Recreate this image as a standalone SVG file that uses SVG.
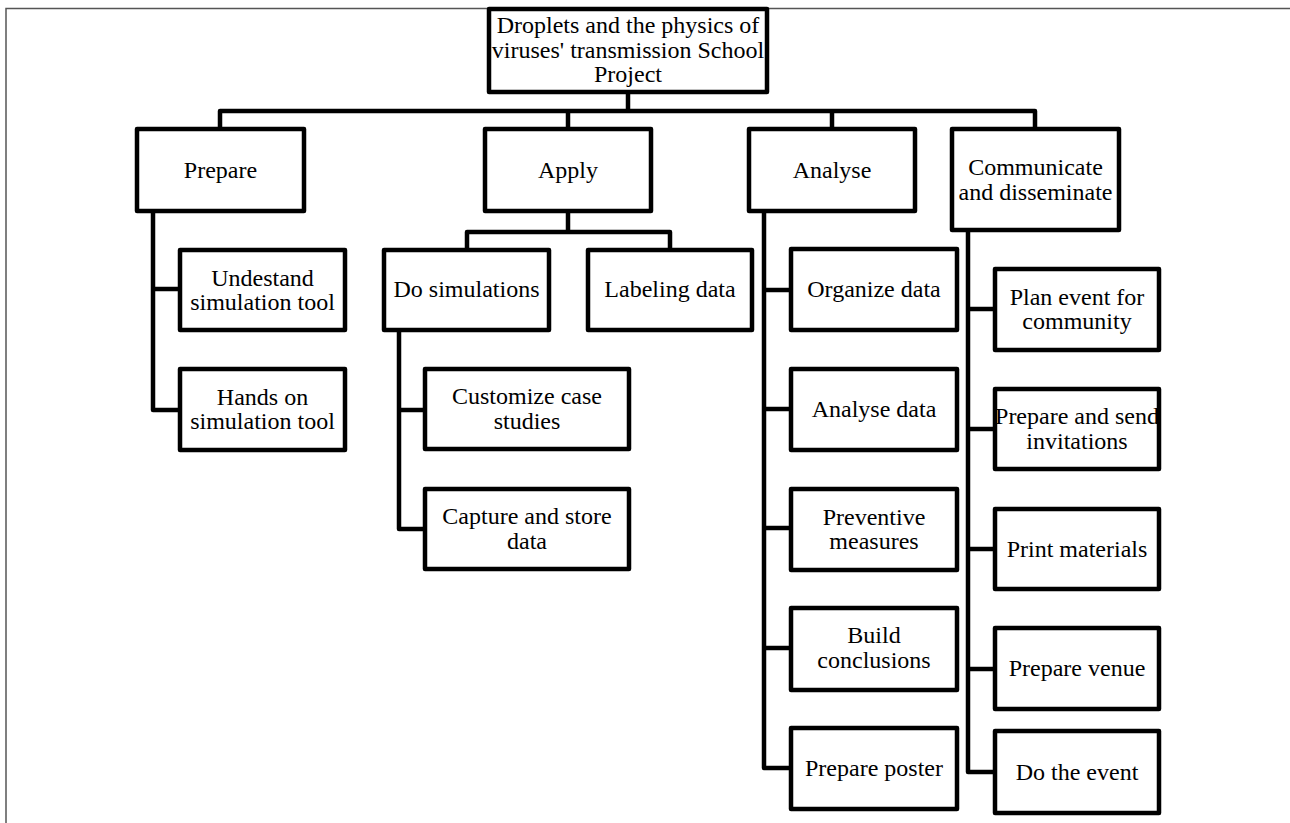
<svg xmlns="http://www.w3.org/2000/svg" width="1290" height="823" viewBox="0 0 1290 823">
  <style>
    .box { fill: #ffffff; stroke: #000000; stroke-width: 4.5; stroke-linejoin: round; }
    .lbl { font-family: "Liberation Serif", "Times New Roman", serif; font-size: 24px; fill: #000000; text-anchor: middle; }
    .wire { fill: none; stroke: #000000; stroke-width: 4.5; stroke-linejoin: round; stroke-linecap: butt; }
    .frame { fill: none; stroke: #555555; stroke-width: 1.5; }
  </style>
  <rect width="1290" height="823" fill="#ffffff"/>
  <path class="frame" d="M1290,8.5 H6 V823"/>

  <!-- tree connectors -->
  <g id="connectors">
    <!-- root to phases -->
    <path class="wire" d="M628,94 V111"/>
    <path class="wire" d="M220,127 V111 H1035 V127"/>
    <path class="wire" d="M568,111 V127"/>
    <path class="wire" d="M832,111 V127"/>
    <!-- Prepare -->
    <path class="wire" d="M153,213 V410 H178"/>
    <path class="wire" d="M153,289 H178"/>
    <!-- Apply -->
    <path class="wire" d="M568,213 V232"/>
    <path class="wire" d="M467,248 V232 H670 V248"/>
    <!-- Do simulations -->
    <path class="wire" d="M399,332 V529 H423"/>
    <path class="wire" d="M399,410 H423"/>
    <!-- Analyse -->
    <path class="wire" d="M764,213 V768 H789"/>
    <path class="wire" d="M764,290 H789"/>
    <path class="wire" d="M764,409 H789"/>
    <path class="wire" d="M764,528 H789"/>
    <path class="wire" d="M764,648 H789"/>
    <!-- Communicate and disseminate -->
    <path class="wire" d="M968,232 V772 H993"/>
    <path class="wire" d="M968,309 H993"/>
    <path class="wire" d="M968,429 H993"/>
    <path class="wire" d="M968,549 H993"/>
    <path class="wire" d="M968,669 H993"/>
  </g>

  <g id="root">
    <rect class="box" x="489" y="9" width="278" height="83"/>
    <text class="lbl" x="628" y="33">Droplets and the physics of</text>
    <text class="lbl" x="628" y="57.5">viruses' transmission School</text>
    <text class="lbl" x="628" y="82">Project</text>
  </g>

  <g id="prepare">
    <rect class="box" x="137" y="129" width="167" height="82"/>
    <text class="lbl" x="220.5" y="178">Prepare</text>
  </g>
  <g id="apply">
    <rect class="box" x="485" y="129" width="166" height="82"/>
    <text class="lbl" x="568" y="178">Apply</text>
  </g>
  <g id="analyse">
    <rect class="box" x="749" y="129" width="166" height="82"/>
    <text class="lbl" x="832" y="178">Analyse</text>
  </g>
  <g id="communicate">
    <rect class="box" x="952" y="129" width="167" height="101"/>
    <text class="lbl" x="1035.5" y="175">Communicate</text>
    <text class="lbl" x="1035.5" y="199.5">and disseminate</text>
  </g>

  <g id="understand-tool">
    <rect class="box" x="180" y="250" width="165" height="80"/>
    <text class="lbl" x="262.5" y="285.5">Undestand</text>
    <text class="lbl" x="262.5" y="310">simulation tool</text>
  </g>
  <g id="hands-on-tool">
    <rect class="box" x="180" y="369" width="165" height="81"/>
    <text class="lbl" x="262.5" y="404.5">Hands on</text>
    <text class="lbl" x="262.5" y="429">simulation tool</text>
  </g>

  <g id="do-simulations">
    <rect class="box" x="384" y="250" width="165" height="80"/>
    <text class="lbl" x="466.5" y="297">Do simulations</text>
  </g>
  <g id="labeling-data">
    <rect class="box" x="588" y="250" width="164" height="80"/>
    <text class="lbl" x="670" y="297">Labeling data</text>
  </g>
  <g id="customize-cases">
    <rect class="box" x="425" y="369" width="204" height="80"/>
    <text class="lbl" x="527" y="404">Customize case</text>
    <text class="lbl" x="527" y="428.5">studies</text>
  </g>
  <g id="capture-data">
    <rect class="box" x="425" y="489" width="204" height="80"/>
    <text class="lbl" x="527" y="524">Capture and store</text>
    <text class="lbl" x="527" y="548.5">data</text>
  </g>

  <g id="organize-data">
    <rect class="box" x="791" y="249" width="166" height="81"/>
    <text class="lbl" x="874" y="297">Organize data</text>
  </g>
  <g id="analyse-data">
    <rect class="box" x="791" y="369" width="166" height="81"/>
    <text class="lbl" x="874" y="417">Analyse data</text>
  </g>
  <g id="preventive-measures">
    <rect class="box" x="791" y="489" width="166" height="81"/>
    <text class="lbl" x="874" y="524.5">Preventive</text>
    <text class="lbl" x="874" y="549">measures</text>
  </g>
  <g id="build-conclusions">
    <rect class="box" x="791" y="608" width="166" height="82"/>
    <text class="lbl" x="874" y="643">Build</text>
    <text class="lbl" x="874" y="667.5">conclusions</text>
  </g>
  <g id="prepare-poster">
    <rect class="box" x="791" y="728" width="166" height="81"/>
    <text class="lbl" x="874" y="776">Prepare poster</text>
  </g>

  <g id="plan-event">
    <rect class="box" x="995" y="269" width="164" height="81"/>
    <text class="lbl" x="1077" y="304.5">Plan event for</text>
    <text class="lbl" x="1077" y="329">community</text>
  </g>
  <g id="send-invitations">
    <rect class="box" x="995" y="389" width="164" height="80"/>
    <text class="lbl" x="1077" y="424">Prepare and send</text>
    <text class="lbl" x="1077" y="448.5">invitations</text>
  </g>
  <g id="print-materials">
    <rect class="box" x="995" y="509" width="164" height="80"/>
    <text class="lbl" x="1077" y="556.5">Print materials</text>
  </g>
  <g id="prepare-venue">
    <rect class="box" x="995" y="628" width="164" height="81"/>
    <text class="lbl" x="1077" y="676">Prepare venue</text>
  </g>
  <g id="do-event">
    <rect class="box" x="995" y="731" width="164" height="82"/>
    <text class="lbl" x="1077" y="779.5">Do the event</text>
  </g>
</svg>
